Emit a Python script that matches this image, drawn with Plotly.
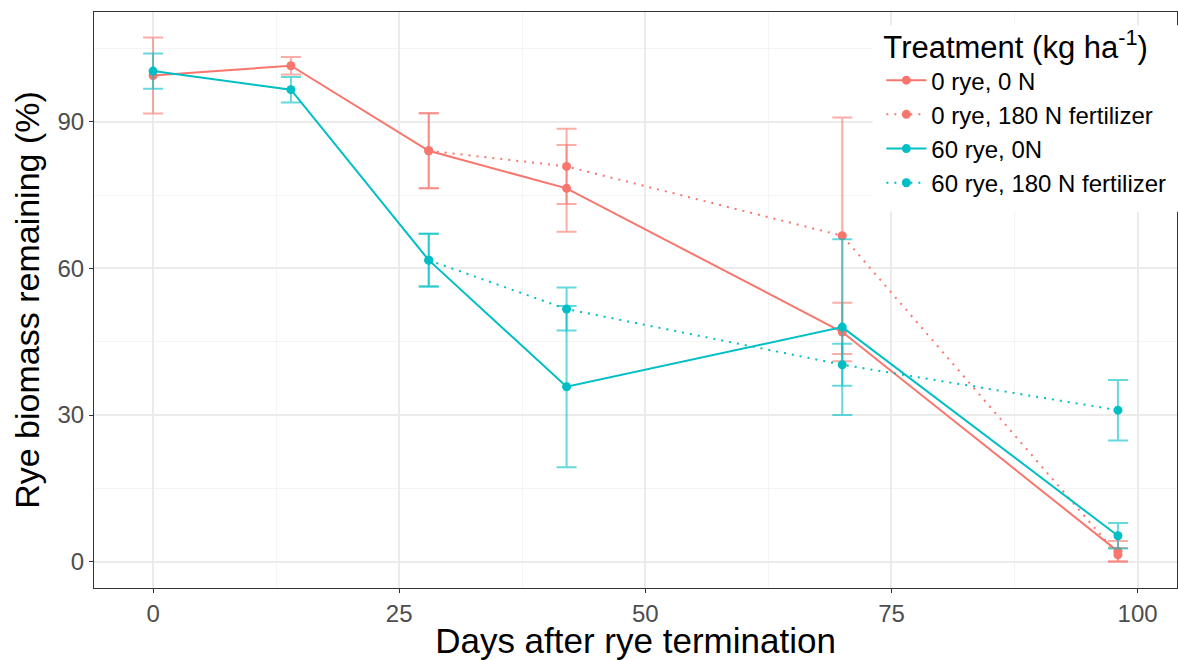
import plotly.graph_objects as go

# ---- data ----
days_all = [0, 14, 28, 42, 70, 98]
days_fert = [28, 42, 70, 98]

rye0_n0 = [99.5, 101.5, 84.1, 76.4, 47.0, 2.1]
rye0_n0_err = [7.8, 1.8, 7.7, 8.9, 6.0, 2.1]

rye0_n180 = [84.1, 80.9, 66.7, 1.4]
rye0_n180_err = [7.7, 7.7, 24.2, 1.4]

rye60_n0 = [100.4, 96.6, 61.7, 35.8, 48.0, 5.3]
rye60_n0_err = [3.6, 2.6, 5.4, 16.5, 18.0, 2.6]

rye60_n180 = [61.7, 51.7, 40.3, 31.0]
rye60_n180_err = [5.4, 4.4, 4.3, 6.2]

series_names = ["0 rye, 0 N", "0 rye, 180 N fertilizer", "60 rye, 0N", "60 rye, 180 N fertilizer"]
x_ticks = [0, 25, 50, 75, 100]
y_ticks = [0, 30, 60, 90]

RED = "#F8766D"
TEAL = "#00BFC4"
RED_A = "rgba(248,118,109,0.6)"
TEAL_A = "rgba(0,191,196,0.6)"
FONT = "Liberation Sans, Arial, sans-serif"

series = [
    (series_names[0], days_all, rye0_n0, rye0_n0_err, RED, RED_A, "solid"),
    (series_names[1], days_fert, rye0_n180, rye0_n180_err, RED, RED_A, "2px,6px"),
    (series_names[2], days_all, rye60_n0, rye60_n0_err, TEAL, TEAL_A, "solid"),
    (series_names[3], days_fert, rye60_n180, rye60_n180_err, TEAL, TEAL_A, "2px,6px"),
]

fig = go.Figure()
for i, (name, xs, ys, es, col, cola, dash) in enumerate(series):
    fig.add_trace(go.Scatter(
        x=xs, y=ys, name=name, mode="lines+markers",
        line=dict(color=col, width=2, dash=dash),
        marker=dict(color=col, size=9),
        error_y=dict(type="data", array=es, visible=True, color=cola, thickness=2, width=10),
    ))

fig.update_layout(
    width=1178, height=660,
    margin=dict(l=94, r=1, t=12, b=72),
    paper_bgcolor="white", plot_bgcolor="white",
    font=dict(family=FONT, color="black"),
    showlegend=True,
    legend=dict(
        x=0.727, y=0.99, xanchor="left", yanchor="top",
        bgcolor="rgba(0,0,0,0)", borderwidth=0,
        title=dict(text="Treatment (kg ha<sup>-1</sup>)", font=dict(size=31, family=FONT, color="black")),
        font=dict(size=24, family=FONT, color="black"),
        traceorder="normal", tracegroupgap=0, itemwidth=40,
    ),
    shapes=[dict(type="rect", xref="paper", yref="paper", x0=0.719, x1=1.01, y0=0.653, y1=0.977,
                 fillcolor="white", line=dict(width=0), layer="above")],
)

fig.update_xaxes(
    range=[-6.0, 104.0], tickvals=x_ticks, ticktext=[str(v) for v in x_ticks],
    showgrid=True, gridcolor="#EBEBEB", gridwidth=1.6,
    minor=dict(tickvals=[12.5, 37.5, 62.5, 87.5], showgrid=True, gridcolor="#F4F4F4", gridwidth=0.8),
    zeroline=False, showline=True, linecolor="#333333", linewidth=1.2, mirror=True,
    ticks="outside", ticklen=4, tickcolor="#333333", tickwidth=1.2,
    tickfont=dict(size=24, color="#4D4D4D", family=FONT),
    title=dict(text="Days after rye termination", font=dict(size=35, family=FONT, color="black"), standoff=9),
)
fig.update_yaxes(
    range=[-5.4, 112.5], tickvals=y_ticks, ticktext=[str(v) for v in y_ticks],
    showgrid=True, gridcolor="#EBEBEB", gridwidth=1.6,
    minor=dict(tickvals=[15, 45, 75, 105], showgrid=True, gridcolor="#F4F4F4", gridwidth=0.8),
    zeroline=False, showline=True, linecolor="#333333", linewidth=1.2, mirror=True,
    ticks="outside", ticklen=4, tickcolor="#333333", tickwidth=1.2,
    tickfont=dict(size=24, color="#4D4D4D", family=FONT),
    title=dict(text="Rye biomass remaining (%)", font=dict(size=34, family=FONT, color="black"), standoff=7),
)

fig.write_html("out.html")
